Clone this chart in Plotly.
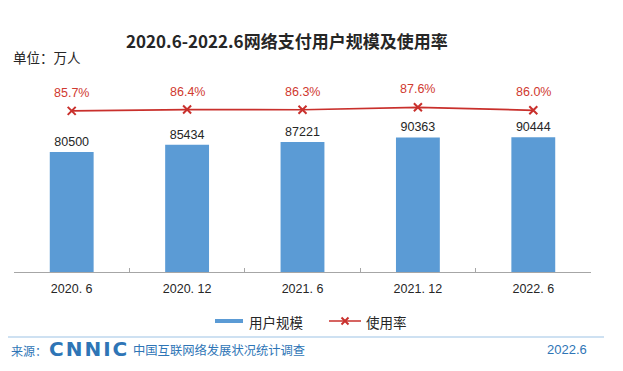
import plotly.graph_objects as go

categories = ["2020. 6", "2020. 12", "2021. 6", "2021. 12", "2022. 6"]
users = [80500, 85434, 87221, 90363, 90444]
rate = [85.7, 86.4, 86.3, 87.6, 86.0]
rate_labels = ["85.7%", "86.4%", "86.3%", "87.6%", "86.0%"]

BLUE = "#5B9BD5"
RED = "#C9302C"
LBL = "Liberation Sans"
CJK = "Noto Sans CJK SC"

# page layout (page pixels); the page body adds an 8px offset
OFF = 8
PL, PR, PT, PB = 14, 591, 84, 272
W, H = 623 - OFF, 371 - OFF


def px(x):
    return (x - PL) / (PR - PL)


def py(y):
    return (PB - y) / (PB - PT)


fig = go.Figure()
fig.add_trace(go.Bar(
    x=categories, y=users, marker=dict(color=BLUE, line=dict(width=0)),
    width=0.38, text=[str(v) for v in users], textposition="outside",
    textfont=dict(family=LBL, size=12.5, color="#262626"), cliponaxis=False,
    showlegend=False, yaxis="y"))
fig.add_trace(go.Scatter(
    x=categories, y=rate, mode="lines+markers", yaxis="y2",
    line=dict(color=RED, width=1.7),
    marker=dict(symbol="x-thin", size=8, line=dict(color=RED, width=2)),
    showlegend=False, cliponaxis=False))

anns = []
for c, r, t in zip(categories, rate, rate_labels):
    anns.append(dict(x=c, y=r, xref="x", yref="y2", text=t, showarrow=False,
                     yanchor="bottom", yshift=9,
                     font=dict(family=LBL, size=12.5, color="#D0392F")))


def txt(x, y, text, family, size, color, xanchor="left"):
    return dict(x=px(x), y=py(y), xref="paper", yref="paper", xanchor=xanchor,
                yanchor="middle", text=text, showarrow=False,
                font=dict(family=family, size=size, color=color))


anns += [
    txt(287, 40, "<b>2020.6-2022.6网络支付用户规模及使用率</b>", CJK, 17, "#262626", "center"),
    txt(11, 57, "单位：万人", CJK, 13.5, "#262626"),
    txt(247, 322, "用户规模", CJK, 13.5, "#262626"),
    txt(364, 322, "使用率", CJK, 13.5, "#262626"),
    txt(9, 350, "来源：", CJK, 12, "#2E75B6"),
    txt(47, 349, "<b>C\u200aN\u200aN\u200aI\u200aC</b>", "DejaVu Sans", 20, "#2E75B6"),
    txt(131, 350, "中国互联网络发展状况统计调查", CJK, 12.3, "#2E75B6"),
    txt(589, 349, "2022.6", LBL, 13, "#2E75B6", "right"),
]

shapes = [
    dict(type="line", xref="paper", yref="paper", x0=px(215), x1=px(243),
         y0=py(321), y1=py(321), line=dict(color=BLUE, width=4)),
    dict(type="line", xref="paper", yref="paper", x0=px(329), x1=px(361),
         y0=py(321), y1=py(321), line=dict(color=RED, width=1.5)),
    dict(type="line", xref="paper", yref="paper", x0=px(341.5), x1=px(348.5),
         y0=py(317.5), y1=py(324.5), line=dict(color=RED, width=2)),
    dict(type="line", xref="paper", yref="paper", x0=px(341.5), x1=px(348.5),
         y0=py(324.5), y1=py(317.5), line=dict(color=RED, width=2)),
    dict(type="line", xref="paper", yref="paper", x0=px(OFF), x1=px(604),
         y0=py(337), y1=py(337), line=dict(color="#9DC3E6", width=1.2)),
]

fig.update_layout(
    width=W, height=H, paper_bgcolor="white", plot_bgcolor="white",
    margin=dict(l=PL - OFF, r=W - (PR - OFF), t=PT - OFF, b=H - (PB - OFF)),
    xaxis=dict(type="category", showline=True, linecolor="#A6A6A6", linewidth=1,
               ticks="inside", tickson="boundaries", ticklen=4, tickcolor="#A6A6A6",
               ticklabelstandoff=5,
               tickfont=dict(family=LBL, size=12.5, color="#262626"),
               showgrid=False, zeroline=False),
    yaxis=dict(range=[0, 126200], visible=False, showgrid=False),
    yaxis2=dict(range=[0, 100], overlaying="y", visible=False, showgrid=False),
    annotations=anns, shapes=shapes, showlegend=False,
)

fig.write_html("out.html")
